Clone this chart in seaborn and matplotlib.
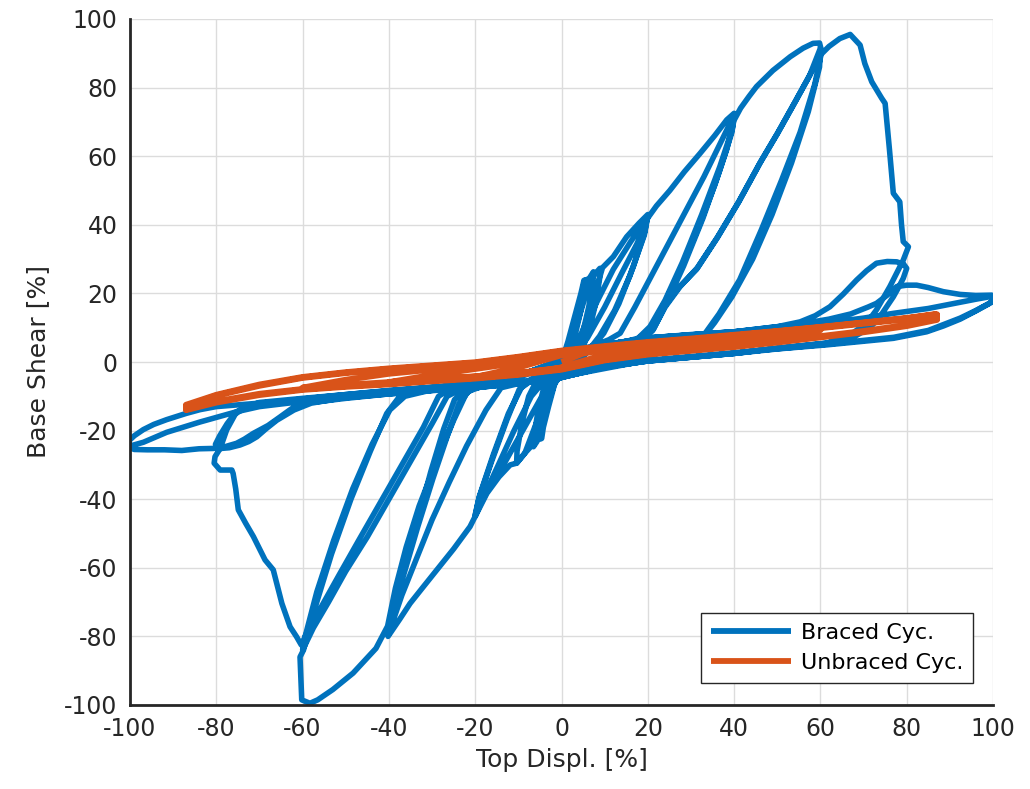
import numpy as np
import pandas as pd
import matplotlib
matplotlib.use("Agg")
import matplotlib.pyplot as plt
import seaborn as sns

# ---------------- data (Top Displ. [%], Base Shear [%]) ----------------
braced_small = [
    (0, 0), (1.5, 6), (3, 13), (4.5, 20), (5.2, 23.8), (5.6, 24), (5.4, 21), (4.3, 14), (3, 7), (1.5, 2), (0, -2),
    (-1.5, -6), (-3, -13), (-4.2, -19), (-4.6, -22.3), (-5, -22.5), (-4.8, -19), (-3.8, -12), (-2.4, -5), (-1, -1.5), (0, 0.5),
    (1.5, 5), (3.2, 12), (4.6, 19), (5.3, 23.5), (6.5, 24.5), (7.4, 26.3), (7.3, 23), (6.3, 16), (5, 9), (3.4, 3), (1.5, -0.5), (0, -2.5),
    (-1.8, -7), (-3.3, -13), (-4.5, -19), (-5.7, -23.2), (-6.5, -24.7), (-6.3, -21), (-5.4, -14), (-4.2, -8), (-2.7, -3.5), (-1, -0.5), (0.5, 1.5),
    (2, 5), (3.8, 12), (5.5, 19), (7, 24.5), (8.9, 27.3), (8.8, 24), (7.9, 17), (6.4, 9), (4.7, 3.5), (2.7, 0), (0, -3.5),
    (-2, -7), (-4, -14), (-5.8, -20), (-7.2, -24.8), (-8.5, -26.6), (-10.4, -29.5), (-10.3, -26), (-9.2, -18), (-7.6, -10), (-5.8, -5.5), (-3, -2.5), (0, 0),
]
braced_20 = [
    (2, 2), (4, 6.5), (6, 12.5), (8, 21), (9.5, 27.5), (12, 30.7), (15.1, 36.5), (18, 40.5), (20, 43), (19.3, 38), (16.7, 28), (13.3, 17), (9.8, 8.4), (7, 4), (4, 0.5), (0, -4),
    (-2, -6.5), (-4, -12), (-6.2, -19), (-8.5, -26.6), (-10.4, -29.5), (-11.9, -30), (-14.5, -33.5), (-17.3, -38.3), (-20, -45), (-19.2, -40), (-16.2, -29), (-12.7, -17), (-9.8, -8), (-7, -5), (-4, -3), (0, 0),
    (2, 2), (4.5, 7), (8, 17), (12, 27), (16, 35), (20, 42.5), (19.2, 37), (15.8, 25), (12.3, 15), (8.8, 7.5), (6, 3), (3, -0.5), (0, -4),
    (-2.5, -6.5), (-5, -11), (-9, -20), (-13, -29), (-17, -37), (-20, -44.5), (-19, -39), (-15.8, -27), (-12.3, -15), (-9.3, -7.5), (-6, -4.5), (-3, -2.5), (0, 0),
]
braced_40 = [
    (3, 2.5), (6, 7), (10, 16), (14, 26), (17.5, 34.5), (20, 42), (22, 45.5), (25.1, 50), (28.5, 55.5), (32.1, 60.8), (35.5, 66), (38.3, 70.6), (40, 72.5),
    (39.6, 68), (36.7, 57), (32.5, 43), (28, 29), (24, 18), (20.5, 10.3), (17, 6), (12, 3), (6, 0), (0, -4),
    (-4, -5.5), (-7, -10), (-11, -20), (-15, -31), (-18.5, -40.5), (-20, -45), (-21.2, -48), (-25, -54.5), (-28.9, -60.6), (-32, -65.5), (-35.1, -70.4), (-37.5, -75), (-39.7, -79.1), (-40.2, -80),
    (-39.5, -76), (-36.8, -63), (-33.3, -48), (-29.8, -34), (-26.3, -21), (-23.7, -12), (-21.5, -8.5), (-17, -6.5), (-10, -4), (-3, -1.5), (0, 0.5),
    (4, 3.5), (8, 5), (11, 6.5), (13.6, 8.4), (17, 16), (21, 25.5), (25, 35), (29, 44.5), (33, 54), (36.5, 63), (40, 72),
    (39.5, 67), (36.7, 56), (32.8, 42), (28.3, 28), (24.3, 17), (21.3, 9.5), (17, 5), (10, 1.5), (4, -2), (0, -4.5),
    (-5, -5.5), (-10, -6.3), (-14, -7.5), (-17.5, -14), (-22, -24.5), (-26, -35), (-30, -46), (-33.5, -57), (-37, -68), (-40, -79),
    (-39.3, -74), (-36.7, -61), (-33.3, -46), (-30.3, -32), (-27.3, -19.5), (-24.8, -11), (-22.5, -8.2), (-17, -6.3), (-10, -4), (0, 0.5),
]
braced_60 = [
    (5, 3), (10, 5), (15, 6), (18, 7), (20.5, 9.5), (24, 17.5), (28, 28), (32, 40), (35.5, 51.5), (38.3, 62), (40, 70.5), (41.5, 74), (43.5, 77.5), (45.2, 80.3), (49, 85), (53, 89), (56, 91.5), (58.3, 92.9), (59.8, 93),
    (60.3, 90.5), (58.7, 81), (55.3, 67), (51, 53), (46.3, 38.5), (41.3, 24), (36.5, 14), (32.8, 7.5), (28, 5), (20, 1.5), (10, -1.5), (0, -4.5), (-10, -6.2), (-20, -7.5),
    (-22, -9), (-25, -17), (-29, -29), (-33, -42), (-36, -54), (-38.5, -66), (-40.3, -77), (-43, -83.5), (-48.3, -90.7), (-53, -95.5), (-56.5, -98.5), (-58.3, -99.5), (-60.2, -98.5), (-60.6, -86), (-59.8, -84),
    (-57.2, -72), (-53.3, -56), (-48.8, -40), (-44.3, -26), (-40.5, -15), (-37.5, -10), (-30, -7.8), (-20, -6.3), (-10, -4), (0, 0.5),
    (10, 5), (18, 6.5), (20.5, 8.5), (23.5, 15.5), (27, 21.5), (31.3, 27), (36, 36), (41, 46.5), (46, 58), (50, 66.5), (54, 75.5), (57.5, 83.5), (60, 91.5),
    (59.8, 86), (57.2, 73), (53.3, 58), (48.8, 43), (44.3, 30), (39.5, 19), (35.5, 11.5), (33, 7.5), (25, 4), (15, 1), (5, -2.5), (0, -4.5), (-10, -6.2), (-20, -7.5),
    (-24, -8.4), (-26.5, -10), (-30, -18), (-35, -29), (-40, -40), (-45, -51), (-50, -61), (-54, -70), (-57.5, -77.5), (-60, -84),
    (-59.4, -80), (-56.7, -67), (-52.8, -52), (-48.4, -37), (-43.9, -24), (-39.8, -14), (-36.3, -10), (-28, -7.5), (-20, -6.3), (-10, -4), (0, 0.5),
]
braced_80 = [
    (10, 5), (18, 6.7), (21, 9), (24, 16), (27.5, 22), (31.5, 27.5), (36.2, 36.5), (41.2, 47), (46.2, 58.5), (50.2, 67), (54.2, 76), (57.7, 84), (60, 89.5),
    (62, 92), (64.5, 94.3), (66.9, 95.5), (69.2, 92.4), (70.3, 87), (71.9, 81.7), (74.2, 76.9), (75, 75.4), (76, 62), (76.9, 49.2), (78.4, 46.7), (78.8, 40), (79.2, 35.1), (80.4, 33.6),
    (79.2, 29.7), (76.1, 22), (73, 15.2), (70.7, 11.3), (67, 8), (61.5, 5.5), (50, 4), (40, 2.5), (20, 0.3), (10, -1.5), (0, -4.5), (-10, -6.2), (-20, -7.3),
    (-26, -8), (-28.5, -10), (-32, -19), (-37, -30), (-42, -41), (-47, -52), (-51.5, -62), (-55.5, -71), (-58.5, -77.5), (-60.3, -82.5),
    (-61.4, -80.1), (-62.9, -77.2), (-64.8, -70.4), (-66.8, -60.6), (-68.7, -57.7), (-71.4, -50.9), (-73.2, -47), (-74.9, -43.1), (-75.5, -37), (-76.1, -32.5), (-76.4, -31.5),
    (-79.1, -31.5), (-80.5, -29.5), (-80.3, -27.6), (-79.1, -25.2), (-77.6, -19.8), (-75.3, -14.5), (-72, -12.5), (-60, -10.8), (-50, -9.5), (-40, -8.3), (-30, -7.4), (-20, -6.3), (-10, -4),
    (0, 0.5), (5, 3), (10, 5), (20, 7), (30, 8), (40, 8.8), (50, 10.3),
    (55.3, 11.7), (58.8, 13.5), (62.2, 16.1), (65.3, 19.8), (68.4, 23.9), (70.7, 26.6), (73, 28.8), (75.5, 29.3), (77.7, 29.2), (79.3, 28.5), (80, 27.3),
    (79.2, 24.4), (78, 21.5), (76.9, 19), (75.3, 16), (73.8, 13.2), (71.5, 10), (68, 7.5), (61.5, 5.5), (50, 4), (40, 2.5), (20, 0.3), (10, -1.5), (0, -4.5), (-10, -6.2), (-20, -7.3), (-40, -9.2), (-50, -10.3),
    (-58, -12), (-62, -14), (-66, -17), (-68.5, -19.5), (-70.6, -21.8), (-72.5, -23.2), (-74.5, -24.2), (-77, -25), (-79.8, -25.3),
    (-80.2, -24), (-79.2, -21.5), (-77.5, -18), (-76, -15.5), (-73, -13), (-70, -11.8), (-60, -10.6), (-40, -8.4), (-20, -6.3), (-10, -4), (0, 0.5), (10, 5), (20, 7), (40, 8.8), (55, 11), (62, 12.5),
]
braced_100 = [
    (67, 14), (71, 16), (73, 17.1), (75.5, 19.5), (77.7, 22), (80, 22.4), (82.3, 22.4), (85, 21.7), (88.5, 20.5), (92.4, 19.7), (96, 19.4), (99.7, 19.5),
    (100.2, 18.5), (99.5, 17.3), (96.2, 15), (92.4, 12.5), (88.5, 10.5), (84.6, 8.8), (76.9, 6.9), (61.5, 5), (50, 3.8), (40, 2.5), (20, 0.3), (10, -1.5), (0, -4.5),
    (-10, -6.2), (-20, -7.4), (-40, -9.3), (-50, -10.6), (-56, -11.5),
    (-60.6, -12), (-63, -14), (-65.2, -16), (-68, -18.5), (-71.4, -20.8), (-73.5, -22.5), (-75.3, -23.7), (-78, -24.7), (-80.7, -25.2), (-84, -25.3), (-88, -25.8), (-92, -25.6), (-96, -25.6), (-99, -25.5), (-100.5, -24.8),
    (-100.6, -23.4), (-99, -21.5), (-96.9, -19.7), (-94.5, -18.2), (-91.5, -16.8), (-87, -15), (-83.8, -13.9), (-80, -13), (-70, -12), (-60, -11), (-40, -9.1), (-20, -6.6), (-10, -4.5),
    (0, 0), (10, 5), (20, 7), (40, 8.8), (60, 11.2), (70, 12.8), (77, 14.2), (85, 15.6), (92, 17.3), (96, 18.3), (100, 19.2),
    (100.3, 18.3), (99, 17), (96, 15), (92.4, 12.8), (85, 9.2), (77, 7.2), (61.5, 5.2), (40, 2.7), (20, 0.5), (0, -4.3), (-20, -7.2), (-40, -9.3),
    (-60, -11.5), (-70, -13), (-75.3, -14.5), (-83.8, -17.5), (-91.5, -20.5), (-96.9, -23.4), (-100.3, -24.6), (-99.5, -23.6),
]
unbraced = [
    (0, 0), (5, 2.5), (10, 3.6), (15, 4.3), (20, 5.0), (15, 3.5), (10, 2.2), (5, 0.3), (0, -1.6), (-5, -2.8), (-10, -3.5), (-15, -4.0), (-20, -4.4),
    (-15, -3.0), (-10, -1.6), (-5, 0.2), (0, 2.0),
    (10, 3.8), (20, 4.9), (30, 6.0), (40, 7.1), (30, 4.8), (20, 3.2), (10, 1.5), (0, -1.8), (-10, -3.3), (-20, -4.3), (-30, -5.1), (-40, -5.9),
    (-30, -3.8), (-20, -2.0), (-10, -0.2), (0, 2.5),
    (10, 3.9), (20, 5.1), (30, 6.1), (40, 7.1), (50, 8.2), (60, 9.3), (50, 6.9), (40, 5.3), (30, 4.0), (20, 2.8), (10, 1.0), (0, -1.7),
    (-10, -3.2), (-20, -4.2), (-30, -5.0), (-40, -5.9), (-50, -6.7), (-60, -7.5), (-50, -5.2), (-40, -3.4), (-30, -2.2), (-20, -1.0), (-10, 0.6), (0, 2.6),
    (10, 4.0), (20, 5.3), (30, 6.3), (40, 7.4), (50, 8.6), (60, 9.9), (70, 11.2), (80, 12.5), (87, 13.7), (87, 12.6), (80, 10.8), (70, 9.0), (60, 7.5),
    (50, 6.0), (40, 4.6), (30, 3.5), (20, 2.4), (10, 0.7), (0, -2.0), (-10, -3.5), (-20, -4.6), (-30, -5.4), (-40, -6.3), (-50, -7.0), (-60, -7.9),
    (-70, -9.3), (-80, -11.5), (-87, -13.8), (-87, -12.8), (-80, -9.8), (-70, -6.9), (-60, -4.6), (-50, -3.2), (-40, -2.1), (-30, -1.2), (-20, -0.3),
    (-10, 1.3), (0, 3.1),
    (10, 4.4), (20, 5.6), (30, 6.6), (40, 7.7), (50, 8.9), (60, 10.1), (70, 11.4), (80, 12.7), (87, 13.9), (87, 12.3), (80, 10.5), (70, 8.7), (60, 7.2),
    (50, 5.7), (40, 4.4), (30, 3.3), (20, 2.2), (10, 0.5), (0, -2.2), (-10, -3.7), (-20, -4.8), (-30, -5.6), (-40, -6.5), (-50, -7.2), (-60, -8.1),
    (-70, -9.6), (-80, -11.8), (-87, -14.0), (-87, -12.5), (-80, -9.6), (-70, -6.6), (-60, -4.4), (-50, -3.0), (-40, -1.9), (-30, -1.0), (-20, -0.1),
    (-10, 1.5), (0, 3.3), (10, 4.6), (20, 5.8), (30, 6.8), (40, 7.9), (50, 9.0), (60, 10.2), (70, 11.5), (80, 12.8), (87, 14.0),
]

series_names = ["Braced Cyc.", "Unbraced Cyc."]
series_colors = ["#0072BD", "#D95319"]
series_widths = [4.0, 4.4]
x_ticks = [-100, -80, -60, -40, -20, 0, 20, 40, 60, 80, 100]
y_ticks = [-100, -80, -60, -40, -20, 0, 20, 40, 60, 80, 100]

# ---------------- build table ----------------
braced = braced_small + braced_20 + braced_40 + braced_60 + braced_80 + braced_100
frames = []
for name, pts in zip(series_names, [braced, unbraced]):
    arr = np.array(pts, dtype=float)
    frames.append(pd.DataFrame({"disp": arr[:, 0], "shear": arr[:, 1], "series": name}))
df = pd.concat(frames, ignore_index=True)

# ---------------- style ----------------
sns.set_style("white")
plt.rcParams["font.family"] = ["DejaVu Sans"]
plt.rcParams["axes.unicode_minus"] = False

fig = plt.figure(figsize=(10.30, 7.89), dpi=100)
ax = fig.add_axes([130 / 1030, 84 / 789, 863 / 1030, 686 / 789])

sns.lineplot(data=df, x="disp", y="shear", hue="series", hue_order=series_names,
             palette=series_colors, sort=False, estimator=None, linewidth=4.0,
             ax=ax, legend=False)
for ln, w in zip(ax.lines, series_widths):
    ln.set_solid_joinstyle("round")
    ln.set_solid_capstyle("butt")
    ln.set_linewidth(w)

ax.set_xlim(-100, 100)
ax.set_ylim(-100, 100)
ax.set_xticks(x_ticks)
ax.set_yticks(y_ticks)
ax.set_xticklabels([str(t) for t in x_ticks])
ax.set_yticklabels([str(t) for t in y_ticks])

dark = "#262626"
ax.grid(True, color="#dcdcdc", linewidth=1.0)
ax.set_axisbelow(True)
for s in ["top", "right"]:
    ax.spines[s].set_visible(False)
for s in ["left", "bottom"]:
    ax.spines[s].set_color(dark)
    ax.spines[s].set_linewidth(2.0)
ax.tick_params(axis="both", direction="in", length=7, width=1.6, colors=dark,
               labelsize=17, top=False, right=False)
ax.tick_params(axis="x", pad=9)
ax.tick_params(axis="y", pad=9)

ax.set_xlabel("Top Displ. [%]", fontsize=18, color=dark, labelpad=5)
ax.set_ylabel("Base Shear [%]", fontsize=18, color=dark, labelpad=10)

handles = ax.lines[:2]
leg = ax.legend(handles, series_names, loc="lower right", bbox_to_anchor=(0.977, 0.032),
                borderaxespad=0, fontsize=16, frameon=True, fancybox=False,
                framealpha=1, edgecolor=dark, handlelength=3.6, handletextpad=0.45,
                borderpad=0.45, labelspacing=0.45)
leg.get_frame().set_linewidth(1.0)
for t in leg.get_texts():
    t.set_color("black")
for lh in leg.get_lines():
    lh.set_linewidth(4.2)

fig.savefig("out.png", dpi=100)
